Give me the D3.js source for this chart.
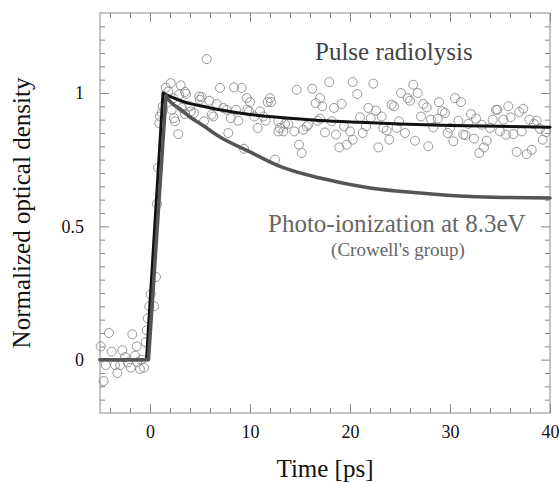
<!DOCTYPE html>
<html>
<head>
<meta charset="utf-8">
<script src="https://cdn.jsdelivr.net/npm/d3@7"></script>
<style>
  body { margin: 0; background: #fff; }
  svg text { font-family: "Liberation Serif", "Times New Roman", serif; }
</style>
</head>
<body>
<div id="chart"></div>
<script>
// measured points (pulse radiolysis)
const timePs = [
  -4.93, -4.63, -4.43, -4.1, -3.83, -3.5, -3.27, -2.97, -2.77, -2.5, -2.23, -1.93, -1.77, -1.5, -1.33, -1.27,
  -1.0, -0.83, -0.6, -0.43, -0.33, -0.23, -0.07, 0.07, 0.4, 0.6, 0.7, 0.8, 0.93, 1.0, 1.17, 1.27,
  1.57, 1.83, 2.07, 2.17, 2.33, 2.4, 2.5, 2.83, 2.9, 3.07, 3.17, 3.5, 3.5, 3.6, 4.0, 4.07, 4.4, 4.93,
  5.0, 5.17, 5.4, 5.67, 5.93, 6.17, 6.33, 6.67, 7.0, 7.33, 7.67, 7.83, 8.07, 8.4, 8.6, 8.83, 9.17, 9.4,
  9.67, 9.73, 9.9, 10.0, 10.43, 10.77, 11.0, 11.33, 11.57, 11.77, 12.0, 12.1, 12.5, 12.83, 13.0, 12.83,
  13.33, 13.5, 13.83, 14.43, 14.67, 14.9, 15.17, 15.33, 15.67, 15.83, 16.23, 16.57, 16.77, 17.0, 17.0,
  17.23, 17.5, 17.93, 18.17, 18.4, 18.6, 18.93, 19.17, 19.4, 19.67, 20.0, 20.27, 20.27, 20.73, 21.0,
  21.27, 21.6, 21.83, 22.07, 22.33, 22.6, 22.83, 23.17, 23.33, 23.67, 23.93, 24.17, 24.4, 24.67, 24.9,
  25.1, 25.5, 25.77, 26.0, 26.33, 26.5, 26.77, 27.1, 27.33, 27.67, 27.83, 28.1, 28.33, 28.77, 28.9,
  29.23, 29.5, 29.77, 30.0, 30.33, 30.5, 30.83, 31.1, 31.33, 31.55, 31.83, 32.1, 32.4, 32.6, 32.93,
  33.17, 33.4, 33.67, 34.0, 34.27, 34.6, 34.73, 35.0, 35.33, 35.6, 35.83, 36.07, 36.33, 36.67, 36.93,
  37.17, 37.33, 37.67, 37.93, 38.17, 38.4, 38.67, 39.0, 39.27, 39.6
];
const density = [
  0.05, -0.08, -0.02, 0.10, 0.03, -0.02, -0.05, -0.02, 0.035, 0.01, -0.01, -0.03, 0.095, 0.015, 0.05, -0.01,
  -0.035, 0.0, -0.03, 0.065, 0.11, 0.155, 0.2, 0.245, 0.2, 0.31, 0.585, 0.72, 0.887, 0.912, 0.925, 0.95,
  1.02, 1.006, 1.037, 0.937, 0.98, 0.906, 0.894, 0.846, 0.994, 1.029, 0.944, 1.004, 0.921, 0.997, 0.95, 0.931, 0.925, 0.987,
  0.975, 0.985, 0.894, 1.127, 0.971, 0.919, 0.912, 0.959, 1.019, 0.944, 0.937, 0.85, 0.906, 1.021, 0.937, 0.896, 1.019, 0.791,
  0.981, 0.937, 0.931, 0.966, 0.912, 0.869, 0.931, 0.912, 0.896, 0.966, 0.981, 0.966, 0.75, 0.894, 0.869, 0.856,
  0.856, 0.884, 0.884, 0.856, 1.012, 0.806, 0.775, 0.862, 0.875, 0.881, 1.016, 0.962, 0.896, 0.981, 0.904,
  0.95, 0.852, 1.041, 0.894, 0.944, 0.844, 0.796, 0.959, 0.875, 0.806, 0.856, 1.041, 0.825, 0.996, 0.909,
  0.85, 0.875, 0.944, 0.906, 1.035, 0.934, 0.796, 0.912, 0.869, 0.859, 0.825, 0.956, 0.95, 0.869, 0.894,
  1.0, 0.85, 0.981, 0.971, 1.031, 0.821, 1.0, 0.912, 0.959, 0.946, 0.8, 0.9, 0.871, 0.904, 0.966,
  0.931, 0.925, 0.85, 0.869, 0.819, 0.981, 0.896, 0.966, 0.844, 0.842, 0.884, 0.921, 0.829, 0.904, 0.775,
  0.881, 0.796, 0.821, 0.869, 0.9, 0.937, 0.937, 0.856, 0.9, 0.844, 0.95, 0.909, 0.846, 0.779, 0.929,
  0.856, 0.941, 0.771, 0.9, 0.787, 0.884, 0.896, 0.866, 0.825, 0.853
];

// fitted curves (index 2 is the peak)
const pulseT = [-5, -0.35, 1.3, 2, 3, 4, 5.3, 7, 10, 13, 17, 21, 25, 30, 35, 40];
const pulseV = [0, 0, 1.0, 0.987, 0.972, 0.96, 0.95, 0.937, 0.919, 0.908, 0.897, 0.89, 0.884, 0.878, 0.875, 0.872];
const photoT = [-5, -0.15, 1.6, 2, 3, 4, 5.3, 7, 10, 13, 17, 22, 27, 32, 36, 40];
const photoV = [0, 0, 0.99, 0.969, 0.94, 0.91, 0.878, 0.835, 0.779, 0.725, 0.681, 0.644, 0.625, 0.612, 0.608, 0.606];

const xMajor = [0, 10, 20, 30, 40];
const xMinor = [-4, -2, 2, 4, 6, 8, 12, 14, 16, 18, 22, 24, 26, 28, 32, 34, 36, 38];
const yMajor = [0, 0.5, 1];
const yMinor = d3.range(-0.15, 1.3, 0.05).map(v => +v.toFixed(2)).filter(v => !yMajor.includes(v));

const width = 559, height = 483;
const margin = { top: 13, right: 9, bottom: 70, left: 100 };
const w = width - margin.left - margin.right;
const h = height - margin.top - margin.bottom;

const svg = d3.select("#chart").append("svg")
  .attr("width", width)
  .attr("height", height);

const g = svg.append("g").attr("transform", `translate(${margin.left},${margin.top})`);

const x = d3.scaleLinear().domain([-5, 40]).range([0, w]);
const y = d3.scaleLinear().domain([-0.2, 1.3]).range([h, 0]);

const axisColor = "#8a8a8a";

function styleAxis(sel) {
  sel.select(".domain").remove();
  sel.selectAll(".tick line").attr("stroke", axisColor);
  sel.selectAll(".tick text").attr("fill", "#111").style("font-size", "18px")
    .style("font-family", "'Liberation Serif', serif");
}

// bottom
g.append("g").attr("transform", `translate(0,${h})`)
  .call(d3.axisBottom(x).tickValues(xMinor).tickSize(-5).tickFormat(""))
  .call(styleAxis);
g.append("g").attr("transform", `translate(0,${h})`)
  .call(d3.axisBottom(x).tickValues(xMajor).tickSize(-9).tickPadding(12).tickFormat(d3.format("d")))
  .call(styleAxis);
// top
g.append("g")
  .call(d3.axisTop(x).tickValues(xMinor).tickSize(-5).tickFormat(""))
  .call(styleAxis);
g.append("g")
  .call(d3.axisTop(x).tickValues(xMajor).tickSize(-9).tickFormat(""))
  .call(styleAxis);
// left
g.append("g")
  .call(d3.axisLeft(y).tickValues(yMinor).tickSize(-5).tickFormat(""))
  .call(styleAxis);
g.append("g")
  .call(d3.axisLeft(y).tickValues(yMajor).tickSize(-9).tickPadding(16).tickFormat(d => d))
  .call(styleAxis);
// right
g.append("g").attr("transform", `translate(${w},0)`)
  .call(d3.axisRight(y).tickValues(yMinor).tickSize(-5).tickFormat(""))
  .call(styleAxis);
g.append("g").attr("transform", `translate(${w},0)`)
  .call(d3.axisRight(y).tickValues(yMajor).tickSize(-9).tickFormat(""))
  .call(styleAxis);

g.append("rect")
  .attr("width", w)
  .attr("height", h)
  .attr("fill", "none")
  .attr("stroke", axisColor)
  .attr("stroke-width", 1);

// data points
g.selectAll("circle.pt")
  .data(timePs.map((t, i) => ({ t, v: density[i] })))
  .enter()
  .append("circle")
  .attr("class", "pt")
  .attr("cx", d => x(d.t))
  .attr("cy", d => y(d.v))
  .attr("r", 4.5)
  .attr("fill", "none")
  .attr("stroke", "#8c8c8c")
  .attr("stroke-width", 0.9);

// curves: straight rise up to the peak, smooth decay after it
function curvePath(ts, vs) {
  const pts = ts.map((t, i) => [x(t), y(vs[i])]);
  const rise = d3.line().curve(d3.curveLinear)(pts.slice(0, 3));
  const decay = d3.line().curve(d3.curveMonotoneX)(pts.slice(2));
  return rise + decay;
}

g.append("path")
  .attr("d", curvePath(pulseT, pulseV))
  .attr("fill", "none")
  .attr("stroke", "#111")
  .attr("stroke-width", 3)
  .attr("stroke-linejoin", "round")
  .attr("stroke-linecap", "round");

g.append("path")
  .attr("d", curvePath(photoT, photoV))
  .attr("fill", "none")
  .attr("stroke", "#555")
  .attr("stroke-width", 3.5)
  .attr("stroke-linejoin", "round")
  .attr("stroke-linecap", "round");

// annotations
svg.append("text")
  .attr("x", 315).attr("y", 60)
  .attr("fill", "#444")
  .style("font-size", "25px")
  .text("Pulse radiolysis");

svg.append("text")
  .attr("x", 268).attr("y", 232)
  .attr("fill", "#666")
  .style("font-size", "25px")
  .text("Photo-ionization at 8.3eV");

svg.append("text")
  .attr("x", 398).attr("y", 256)
  .attr("text-anchor", "middle")
  .attr("fill", "#666")
  .style("font-size", "19px")
  .text("(Crowell's group)");

// axis titles
svg.append("text")
  .attr("x", margin.left + w / 2).attr("y", 477)
  .attr("text-anchor", "middle")
  .attr("fill", "#111")
  .style("font-size", "25px")
  .text("Time [ps]");

svg.append("text")
  .attr("transform", "translate(30,213) rotate(-90)")
  .attr("text-anchor", "middle")
  .attr("fill", "#111")
  .style("font-size", "25px")
  .text("Normalized optical density");
</script>
</body>
</html>
